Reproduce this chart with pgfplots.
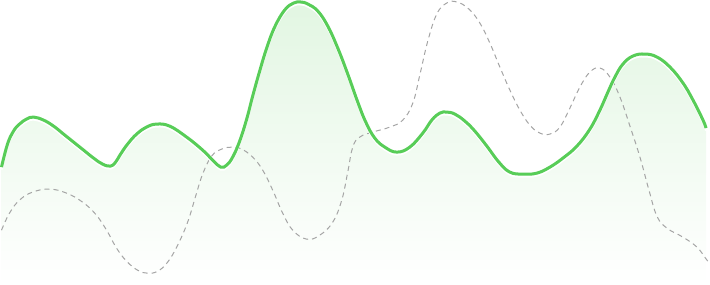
\documentclass[border=0pt]{standalone}
\usepackage{pgfplots}
\usepackage{pgfplotstable}
\pgfplotsset{compat=1.18}
\definecolor{lineGreen}{RGB}{88,205,88}
\definecolor{fillGreen}{RGB}{226,246,226}
\definecolor{dashGray}{RGB}{165,165,165}
\pgfplotstableread{
x y
2 117
8 140
14 153
20 160
27 165
34 167
44 164
54 158
64 150
74 142
84 134
94 126
103 120
111 118
116 122
121 130
128 140
137 150
147 157
157 160
170 158
187 147
203 134
213 124
221 117
227 119
233 127
240 143
247 165
253 188
260 213
267 236
275 257
285 274
294 281
301 282
308 280
318 273
328 258
338 236
348 210
358 182
366 162
375 146
385 137
397 132
410 137
423 151
432 164
440 171
447 172
455 170
465 163
475 153
487 138
499 122
510 112
523 110
537 111
550 117
563 126
577 138
590 155
600 174
608 192
615 207
623 220
633 228
645 230
657 227
670 217
683 201
693 184
703 164
706 156
}\greendata
\pgfplotstableread{
x y
2 54
10 71
20 84
33 92
50 95
67 91
83 82
96 70
107 54
117 36
127 23
138 14
148 11
158 13
168 22
178 39
188 62
196 88
203 110
212 128
222 135
233 137
242 135
253 127
263 114
273 94
283 71
293 54
307 45
320 49
333 62
342 84
348 112
353 137
360 147
373 152
390 157
403 164
413 181
420 209
428 243
437 270
447 281
457 282
469 275
480 261
490 241
500 217
510 194
520 174
530 159
540 151
550 150
560 157
570 176
580 197
590 212
600 216
610 207
620 187
630 158
640 127
649 94
657 68
667 56
683 47
697 37
707 24
710 21
}\graydata
\begin{document}
\begin{tikzpicture}
\begin{axis}[
  width=710bp, height=284bp, scale only axis,
  xmin=0, xmax=710, ymin=0, ymax=284,
  hide axis, clip=true,
  every axis plot/.append style={smooth, tension=0.7},
]
\addplot[draw=none, top color=fillGreen, bottom color=white] table {\greendata} \closedcycle;
\addplot[dashGray, line width=1bp, dash pattern=on 5bp off 4bp] table {\graydata};
\addplot[white, line width=2bp, yshift=-2.5bp] table {\greendata};
\addplot[lineGreen, line width=3bp] table {\greendata};
\end{axis}
\end{tikzpicture}
\end{document}
